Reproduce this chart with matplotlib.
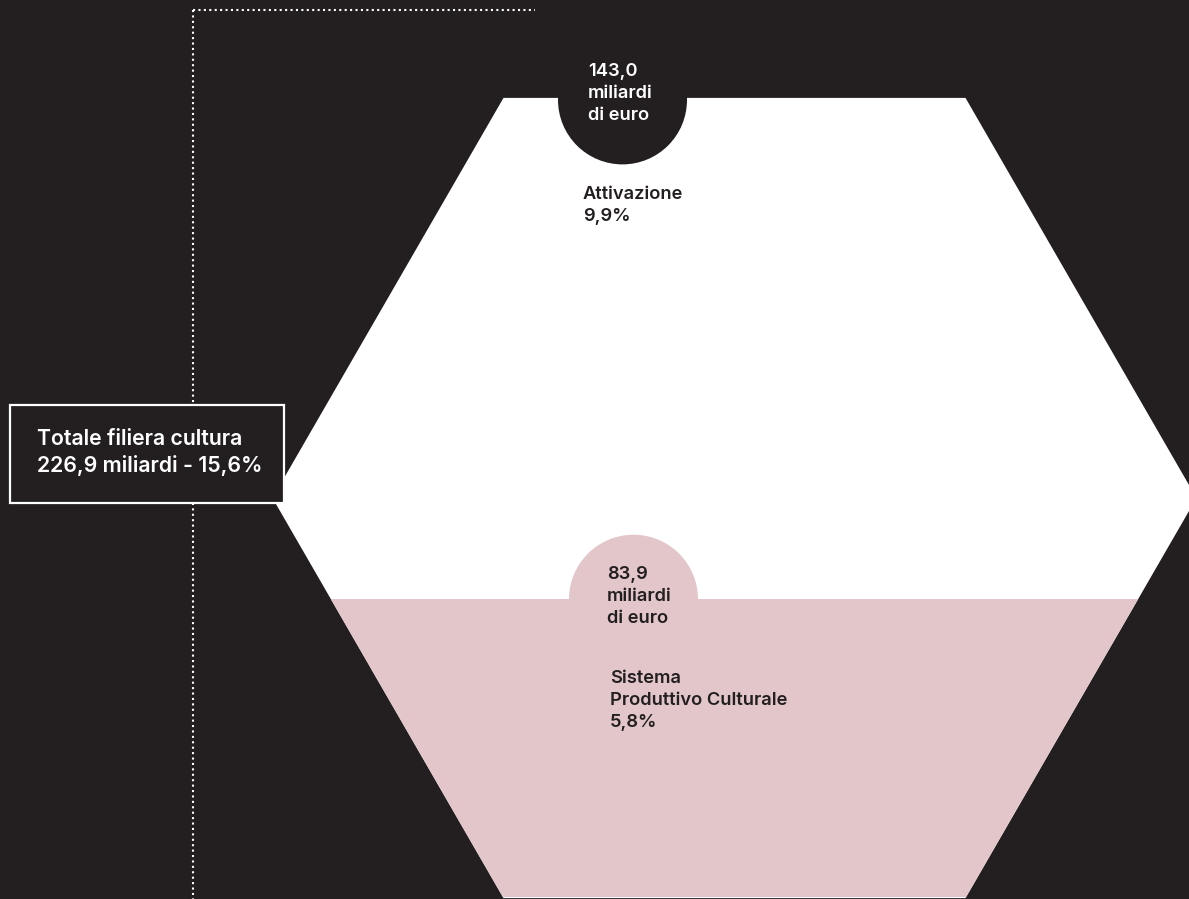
import numpy as np
import matplotlib
matplotlib.use("Agg")
import matplotlib.pyplot as plt
from matplotlib.patches import Polygon, Circle, Rectangle

# ---- data ----
segments = ["Attivazione", "Sistema\nProduttivo Culturale"]
values_bn = [143.0, 83.9]          # miliardi di euro
shares_pct = [9.9, 5.8]            # % share
total_bn = 226.9
total_pct = 15.6

def it(v, d=1):
    return f"{v:.{d}f}".replace(".", ",")

BG = "#231f20"
PINK = "#e2c6c9"
W, H = 1189, 899

plt.rcParams['font.family'] = ['Inter', 'DejaVu Sans']

fig = plt.figure(figsize=(W / 100, H / 100), dpi=100, facecolor=BG)
ax = fig.add_axes([0, 0, 1, 1])
ax.set_xlim(0, W)
ax.set_ylim(H, 0)
ax.axis("off")
ax.set_facecolor(BG)

# hexagon geometry (pixel space)
cx, cy = 734.5, 498.0
s = 462.0
hh = s * np.sqrt(3) / 2
hex_pts = np.array([
    [cx - s / 2, cy - hh], [cx + s / 2, cy - hh], [cx + s, cy],
    [cx + s / 2, cy + hh], [cx - s / 2, cy + hh], [cx - s, cy]])

hexagon = Polygon(hex_pts, closed=True, facecolor="white", edgecolor="none", zorder=2)
ax.add_patch(hexagon)

# split by value share along hexagon height
frac_bottom = values_bn[1] / sum(values_bn)
split_y = (cy + hh) - frac_bottom * 2 * hh - 3
pink = Rectangle((cx - s - 5, split_y), 2 * s + 10, (cy + hh) - split_y - 1.5,
                 facecolor=PINK, edgecolor="none", zorder=3)
ax.add_patch(pink)
pink.set_clip_path(hexagon)

# circles
r = 64.5
c_top = Circle((622.5, cy - hh + 2), r, facecolor=BG, edgecolor="none", zorder=4)
ax.add_patch(c_top)
c_bot = Circle((633.5, split_y), r, facecolor=PINK, edgecolor="none", zorder=4)
ax.add_patch(c_bot)

fs = 13.2
ls = 1.4
ax.text(588, 63, f"{it(values_bn[0])}\nmiliardi\ndi euro", color="white",
        fontsize=fs, fontweight="semibold", va="top", ha="left",
        linespacing=ls, zorder=5)
ax.text(583, 186, f"{segments[0]}\n{it(shares_pct[0])}%", color=BG,
        fontsize=fs, fontweight="semibold", va="top", ha="left",
        linespacing=ls, zorder=5)
ax.text(607, 566, f"{it(values_bn[1])}\nmiliardi\ndi euro", color=BG,
        fontsize=fs, fontweight="semibold", va="top", ha="left",
        linespacing=ls, zorder=5)
ax.text(610, 670, f"{segments[1]}\n{it(shares_pct[1])}%", color=BG,
        fontsize=fs, fontweight="semibold", va="top", ha="left",
        linespacing=ls, zorder=5)

# dotted guide lines
ax.plot([193, 193], [10, H], color="white", lw=1.5, linestyle=(0, (1, 1.6)),
        zorder=1, solid_capstyle="butt")
ax.plot([193, 535], [10, 10], color="white", lw=1.5, linestyle=(0, (1, 1.6)),
        zorder=1)

# total box
box = Rectangle((10, 404.5), 274, 98, facecolor=BG, edgecolor="white", lw=1.6, zorder=6)
ax.add_patch(box)
ax.text(37, 429, f"Totale filiera cultura\n{it(total_bn)} miliardi - {it(total_pct)}%",
        color="white", fontsize=15.3, fontweight="semibold", va="top", ha="left",
        linespacing=1.33, zorder=7)

fig.savefig("out.png", dpi=100, facecolor=BG)
